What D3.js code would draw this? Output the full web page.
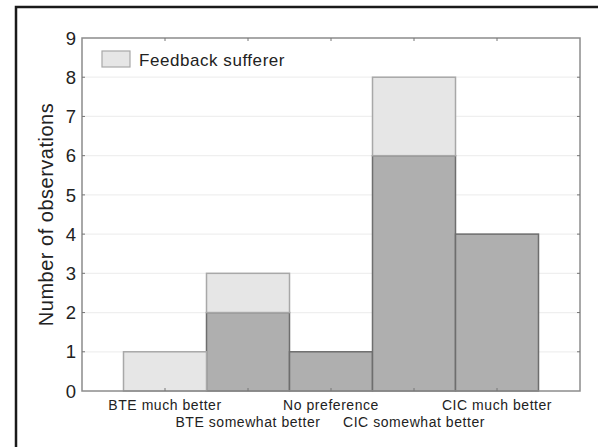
<!DOCTYPE html>
<html>
<head>
<meta charset="utf-8">
<script src="https://cdn.jsdelivr.net/npm/d3@7"></script>
<style>
  html, body { margin: 0; padding: 0; background: #fff; }
  svg { display: block; }
</style>
</head>
<body>
<svg id="chart" width="598" height="447"></svg>
<script>
// Preference categories and observation counts
const categories = ["BTE much better", "BTE somewhat better", "No preference", "CIC somewhat better", "CIC much better"];
const otherCounts = [0, 2, 1, 6, 4];      // listeners without feedback problems (dark)
const sufferCounts = [1, 1, 0, 2, 0];     // feedback sufferers (light, stacked on top)
const yTicks = [0, 1, 2, 3, 4, 5, 6, 7, 8, 9];
const legendLabel = "Feedback sufferer";
const yTitle = "Number of observations";

const svg = d3.select("#chart");
const W = 598, H = 447;
const m = { left: 82, right: 18, top: 38, bottom: 56 };
const plotW = W - m.left - m.right;
const plotH = H - m.top - m.bottom;

// Outer figure frame (left and top edges visible)
svg.append("rect")
  .attr("x", 16).attr("y", 7)
  .attr("width", W + 20).attr("height", H + 20)
  .attr("fill", "none").attr("stroke", "#1a1a1a").attr("stroke-width", 2.5);

const g = svg.append("g").attr("transform", `translate(${m.left},${m.top})`);

// Bands: one empty half-band of padding at each side
const x = d3.scaleLinear().domain([0, categories.length + 1]).range([0, plotW]);
const y = d3.scaleLinear().domain([0, 9]).range([plotH, 0]);

// Horizontal gridlines
g.append("g").selectAll("line").data(yTicks.slice(1, -1)).join("line")
  .attr("x1", 0).attr("x2", plotW)
  .attr("y1", d => y(d)).attr("y2", d => y(d))
  .attr("stroke", "#efefef").attr("stroke-width", 1.2);

const stackData = categories.map((c, i) => ({ c, i, other: otherCounts[i], suffer: sufferCounts[i] }));

// Dark bottom segment
g.append("g").selectAll("rect").data(stackData.filter(d => d.other > 0)).join("rect")
  .attr("x", d => x(d.i + 0.5))
  .attr("width", d => x(d.i + 1.5) - x(d.i + 0.5))
  .attr("y", d => y(d.other))
  .attr("height", d => y(0) - y(d.other))
  .attr("fill", "#afafaf").attr("stroke", "#6e6e6e").attr("stroke-width", 1.5);

// Light top segment
g.append("g").selectAll("rect").data(stackData.filter(d => d.suffer > 0)).join("rect")
  .attr("x", d => x(d.i + 0.5))
  .attr("width", d => x(d.i + 1.5) - x(d.i + 0.5))
  .attr("y", d => y(d.other + d.suffer))
  .attr("height", d => y(d.other) - y(d.other + d.suffer))
  .attr("fill", "#e6e6e6").attr("stroke", "#a8a8a8").attr("stroke-width", 1.5);

// Plot frame
g.append("rect")
  .attr("x", 0).attr("y", 0).attr("width", plotW).attr("height", plotH)
  .attr("fill", "none").attr("stroke", "#8c8c8c").attr("stroke-width", 1.5);

// Inward tick marks on all four sides
const tickLen = 3;
const xTickPos = categories.map((c, i) => i + 1);
g.append("g").selectAll("line").data(xTickPos).join("line")
  .attr("x1", d => x(d)).attr("x2", d => x(d))
  .attr("y1", plotH).attr("y2", plotH - tickLen)
  .attr("stroke", "#777").attr("stroke-width", 1);
g.append("g").selectAll("line").data(xTickPos).join("line")
  .attr("x1", d => x(d)).attr("x2", d => x(d))
  .attr("y1", 0).attr("y2", tickLen)
  .attr("stroke", "#777").attr("stroke-width", 1);
g.append("g").selectAll("line").data(yTicks.slice(1, -1)).join("line")
  .attr("x1", 0).attr("x2", tickLen)
  .attr("y1", d => y(d)).attr("y2", d => y(d))
  .attr("stroke", "#777").attr("stroke-width", 1);
g.append("g").selectAll("line").data(yTicks.slice(1, -1)).join("line")
  .attr("x1", plotW).attr("x2", plotW - tickLen)
  .attr("y1", d => y(d)).attr("y2", d => y(d))
  .attr("stroke", "#777").attr("stroke-width", 1);

const font = "Liberation Sans, Arial, Helvetica, sans-serif";

// Y tick labels
g.append("g").selectAll("text").data(yTicks).join("text")
  .attr("x", -6).attr("y", d => y(d))
  .attr("dy", "0.36em")
  .attr("text-anchor", "end")
  .attr("font-family", font).attr("font-size", 18.5).attr("fill", "#222")
  .text(d => d);

// X category labels, alternating between two rows
g.append("g").selectAll("text").data(stackData).join("text")
  .attr("x", d => x(d.i + 1))
  .attr("y", d => plotH + (d.i % 2 === 0 ? 19 : 36))
  .attr("text-anchor", "middle")
  .attr("font-family", font).attr("font-size", 14).attr("letter-spacing", 0.55).attr("fill", "#222")
  .text(d => d.c);

// Y axis title
svg.append("text")
  .attr("transform", `translate(53,${m.top + plotH / 2}) rotate(-90)`)
  .attr("text-anchor", "middle")
  .attr("font-family", font).attr("font-size", 20).attr("letter-spacing", 0.5).attr("fill", "#222")
  .text(yTitle);

// Legend
const lg = g.append("g").attr("transform", "translate(20,13)");
lg.append("rect").attr("x", 0).attr("y", 0).attr("width", 28).attr("height", 16)
  .attr("fill", "#e6e6e6").attr("stroke", "#a8a8a8").attr("stroke-width", 1.2);
lg.append("text").attr("x", 37).attr("y", 14.5)
  .attr("font-family", font).attr("font-size", 17).attr("letter-spacing", 0.55).attr("fill", "#222")
  .text(legendLabel);
</script>
</body>
</html>
